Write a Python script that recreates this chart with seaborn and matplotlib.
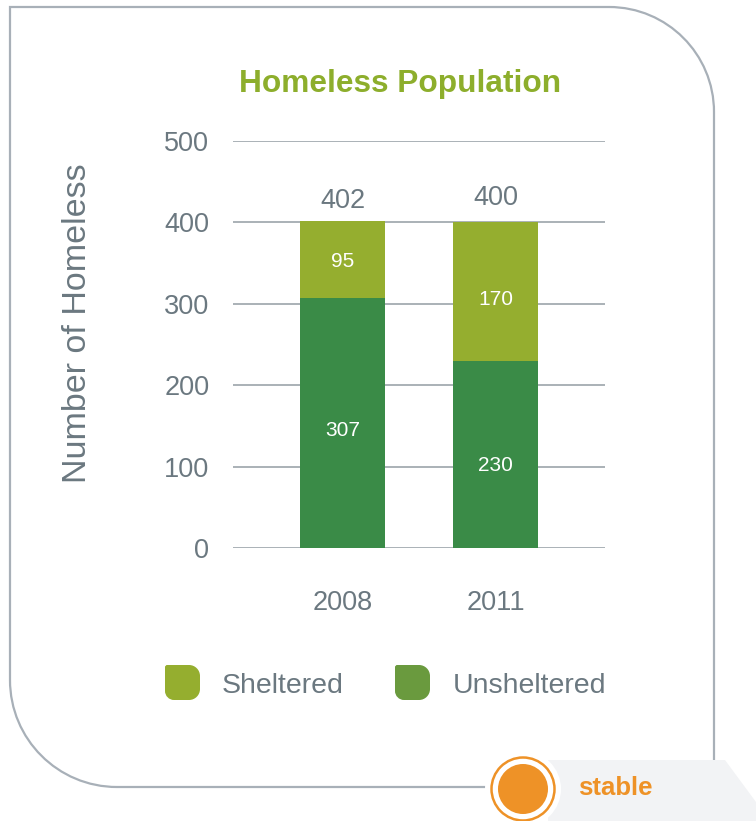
import numpy as np
import pandas as pd
import matplotlib
matplotlib.use("Agg")
import matplotlib.pyplot as plt
import seaborn as sns
from matplotlib.path import Path
from matplotlib.patches import PathPatch, Circle, Polygon

# ---- data ----
years = ["2008", "2011"]
unsheltered = [307, 230]
sheltered = [95, 170]
totals = [402, 400]
yticks = [0, 100, 200, 300, 400, 500]
title = "Homeless Population"
ylabel = "Number of Homeless"
legend_labels = ["Sheltered", "Unsheltered"]
status = "stable"

C_SHEL = "#95AE2F"
C_UNSH = "#3A8B47"
C_UNSH_LEG = "#6A9A3E"
C_TEXT = "#6B7880"
C_GRID = "#AAB1B7"
C_FRAME = "#A8B0B8"
C_TITLE = "#8DAE2C"
C_ORANGE = "#EE9227"

sns.set_theme(style="white")
plt.rcParams["font.family"] = ["Liberation Sans", "DejaVu Sans"]

W, H = 756, 821
fig = plt.figure(figsize=(W / 100, H / 100), dpi=100)

# overlay for decorative frame
ov = fig.add_axes([0, 0, 1, 1], zorder=0)
ov.set_xlim(0, W)
ov.set_ylim(H, 0)
ov.axis("off")

k = 0.5523
def frame_path():
    x0, y0, x1, y1 = 10, 7, 714, 787
    R1, R2 = 105, 107
    verts = [(x1, 760), (x1, y0 + R1),
             (x1, y0 + R1 - k * R1), (x1 - R1 + k * R1, y0), (x1 - R1, y0),
             (x0, y0), (x0, y1 - R2),
             (x0, y1 - R2 + k * R2), (x0 + R2 - k * R2, y1), (x0 + R2, y1),
             (490, y1)]
    codes = [Path.MOVETO, Path.LINETO, Path.CURVE4, Path.CURVE4, Path.CURVE4,
             Path.LINETO, Path.LINETO, Path.CURVE4, Path.CURVE4, Path.CURVE4,
             Path.LINETO]
    return Path(verts, codes)

ov.add_patch(PathPatch(frame_path(), fill=False, edgecolor=C_FRAME, lw=1.6))

# banner
ov.add_patch(Polygon([(548, 760), (725, 760), (770, 821), (548, 821)],
                     closed=True, facecolor="#F2F3F5", edgecolor="none"))
ov.add_patch(Circle((523, 789), 38, facecolor="white", edgecolor="none"))
ov.add_patch(Circle((523, 789), 31.5, facecolor="white", edgecolor=C_ORANGE, lw=1.8))
ov.add_patch(Circle((523, 789), 25, facecolor=C_ORANGE, edgecolor="none"))
ov.text(578, 788, status, color=C_ORANGE, fontsize=18.5, fontweight="bold",
        ha="left", va="center")

def leaf(x, y, s, tl=1.5, tr=11, br=11, bl=9):
    verts = [(x + tl, y), (x + s - tr, y),
             (x + s - tr + k * tr, y), (x + s, y + tr - k * tr), (x + s, y + tr),
             (x + s, y + s - br),
             (x + s, y + s - br + k * br), (x + s - br + k * br, y + s), (x + s - br, y + s),
             (x + bl, y + s),
             (x + bl - k * bl, y + s), (x, y + s - bl + k * bl), (x, y + s - bl),
             (x, y + tl), (x + tl, y), (x + tl, y)]
    codes = [Path.MOVETO, Path.LINETO, Path.CURVE4, Path.CURVE4, Path.CURVE4,
             Path.LINETO, Path.CURVE4, Path.CURVE4, Path.CURVE4,
             Path.LINETO, Path.CURVE4, Path.CURVE4, Path.CURVE4,
             Path.LINETO, Path.LINETO, Path.CLOSEPOLY]
    return Path(verts, codes)

ov.add_patch(PathPatch(leaf(165, 665, 35), facecolor=C_SHEL, edgecolor="none"))
ov.add_patch(PathPatch(leaf(395, 665, 35), facecolor=C_UNSH_LEG, edgecolor="none"))
ov.text(222, 686, legend_labels[0], color=C_TEXT, fontsize=20.5, ha="left", va="center")
ov.text(453, 686, legend_labels[1], color=C_TEXT, fontsize=20.5, ha="left", va="center")

# title
fig.text(400 / W, 1 - 84 / H, title, color=C_TITLE, fontsize=22.8, fontweight="bold",
         ha="center", va="center")
# y label
fig.text(78 / W, 1 - 323 / H, ylabel, color=C_TEXT, fontsize=24.5, rotation=90,
         ha="center", va="center")

# main axes
ax = fig.add_axes([233 / W, (H - 548) / H, 372 / W, 407 / H], zorder=1)
ax.patch.set_alpha(0)
df = pd.DataFrame({"year": years, "total": totals, "unsheltered": unsheltered,
                   "sheltered": sheltered})
sns.barplot(data=df, x="year", y="total", color=C_SHEL, width=0.556,
            saturation=1, ax=ax, zorder=2, linewidth=0, edgecolor="none")
sns.barplot(data=df, x="year", y="unsheltered", color=C_UNSH, width=0.556,
            saturation=1, ax=ax, zorder=3, linewidth=0, edgecolor="none")
ax.set_xlim(-0.716, 1.716)
ax.set_ylim(0, 500)
ax.set_yticks(yticks)
ax.set_yticklabels([str(t) for t in yticks])
for t in yticks:
    ax.axhline(t, color=C_GRID, lw=1.4, zorder=1)
for s in ax.spines.values():
    s.set_visible(False)
ax.set_xlabel("")
ax.set_ylabel("")
ax.tick_params(axis="y", length=0, pad=17, labelsize=19.5, labelcolor=C_TEXT)
ax.tick_params(axis="x", length=0, pad=30, labelsize=19.5, labelcolor=C_TEXT)

label_frac = [0.47, 0.44]
total_off = [8, 14]
for i in range(len(years)):
    ax.text(i, totals[i] + total_off[i], str(totals[i]), ha="center", va="bottom",
            fontsize=19.5, color=C_TEXT)
    ax.text(i, unsheltered[i] + sheltered[i] * label_frac[i], str(sheltered[i]),
            ha="center", va="center", fontsize=15, color="white", zorder=5)
    ax.text(i, unsheltered[i] * label_frac[i], str(unsheltered[i]),
            ha="center", va="center", fontsize=15, color="white", zorder=5)

fig.savefig("out.png", dpi=100)
